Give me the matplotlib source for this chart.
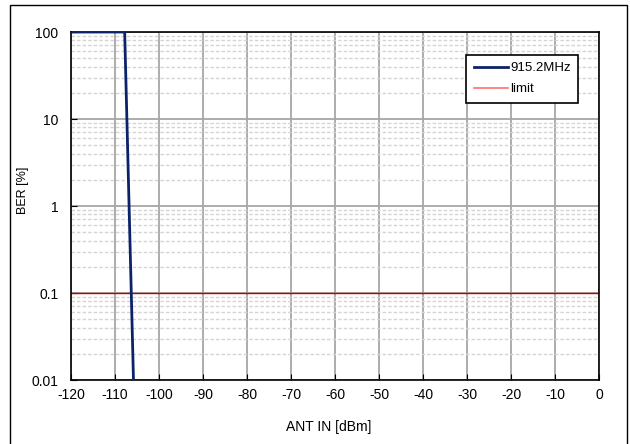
import numpy as np
import matplotlib.pyplot as plt
from matplotlib.patches import Rectangle
from matplotlib.ticker import LogLocator, FixedLocator, FixedFormatter

plt.rcParams['font.family'] = ['Liberation Sans', 'DejaVu Sans']
plt.rcParams['axes.unicode_minus'] = False

# measured curve
ant_in = [-120, -107.8, -105.8]
ber = [100, 100, 0.01]
limit = 0.1

xticks = list(range(-120, 1, 10))
yticks = [0.01, 0.1, 1, 10, 100]
ylabels = ['0.01', '0.1', '1', '10', '100']

fig = plt.figure(figsize=(6.3, 4.44), dpi=100)
ax = fig.add_axes([0.1127, 0.1441, 0.8381, 0.7838])

ax.set_xlim(-120, 0)
ax.set_yscale('log')
ax.set_ylim(0.01, 100)

ax.xaxis.set_major_locator(FixedLocator(xticks))
ax.yaxis.set_major_locator(FixedLocator(yticks))
ax.yaxis.set_major_formatter(FixedFormatter(ylabels))
ax.yaxis.set_minor_locator(LogLocator(base=10, subs=np.arange(2, 10)))
ax.yaxis.set_minor_formatter(plt.NullFormatter())

ax.grid(True, which='major', axis='x', color='#a6a6a6', linewidth=1.3)
ax.grid(True, which='major', axis='y', color='#a6a6a6', linewidth=1.3)
ax.grid(True, which='minor', axis='y', color='#d4d4d4', linewidth=1.0, linestyle=(0, (2.5, 1.5)))

ax.plot(ant_in, ber, color='#0c2268', linewidth=2, label='915.2MHz', zorder=3)
ax.axhline(limit, color='#c00000', linewidth=1, zorder=2)
ax.plot([], [], color='#ff7070', linewidth=1.2, label='limit')

ax.tick_params(axis='both', which='major', labelsize=10, direction='in', length=4)
ax.tick_params(axis='y', which='minor', length=0)
ax.tick_params(axis='x', pad=6)
ax.tick_params(axis='y', pad=9)

for s in ax.spines.values():
    s.set_color('black')
    s.set_linewidth(1.2)

fig.text(329 / 630, 1 - 427 / 444, 'ANT IN [dBm]', fontsize=10,
         ha='center', va='center')
fig.text(23 / 630, 1 - 190 / 444, 'BER [%]', fontsize=9, rotation=90,
         ha='center', va='center')

leg = ax.legend(loc='upper right', bbox_to_anchor=(0.96, 0.934), borderaxespad=0,
                fontsize=9.5, frameon=True, fancybox=False, edgecolor='black',
                framealpha=1, handlelength=2.6, handletextpad=0.15,
                borderpad=0.55, labelspacing=0.65)
leg.get_frame().set_linewidth(1.2)

fig.patches.append(Rectangle((0.016, -0.01), 0.98, 0.998, transform=fig.transFigure,
                             fill=False, edgecolor='black', linewidth=1))

fig.savefig('out.png', dpi=100)
